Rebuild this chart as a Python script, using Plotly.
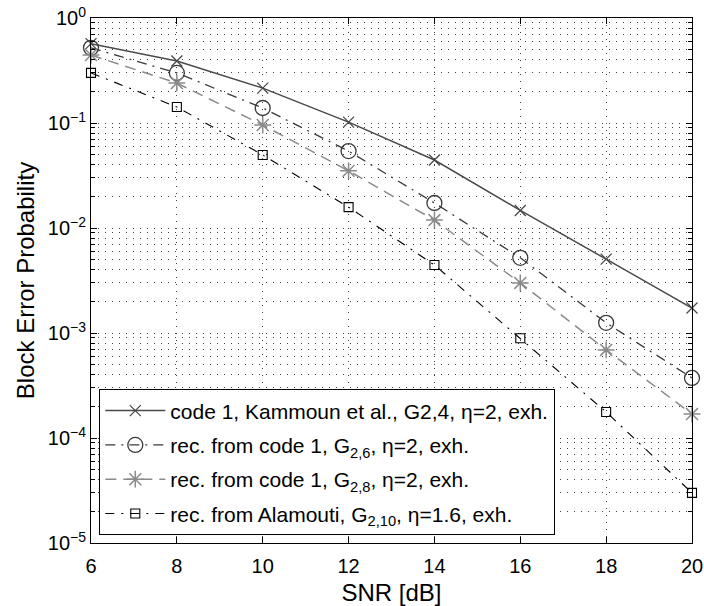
import plotly.graph_objects as go

snr = [6, 8, 10, 12, 14, 16, 18, 20]
code1 = [0.57, 0.39, 0.215, 0.102, 0.0444, 0.0147, 0.00505, 0.00173]
rec_g26 = [0.52, 0.30, 0.139, 0.054, 0.0173, 0.0052, 0.00125, 0.000373]
rec_g28 = [0.444, 0.24, 0.0957, 0.035, 0.0119, 0.0030, 0.00069, 0.000169]
alam_g210 = [0.30, 0.142, 0.0496, 0.0158, 0.00444, 0.00089, 0.000177, 0.000030]

names = [
    "code 1, Kammoun et al., G2,4, η=2, exh.",
    "rec. from code 1, G<sub>2,6</sub>, η=2, exh.",
    "rec. from code 1, G<sub>2,8</sub>, η=2, exh.",
    "rec. from Alamouti, G<sub>2,10</sub>, η=1.6, exh.",
]

ytick_vals = [1e-5, 1e-4, 1e-3, 1e-2, 1e-1, 1e0]
ytick_text = ["10<sup>−5</sup>", "10<sup>−4</sup>", "10<sup>−3</sup>",
              "10<sup>−2</sup>", "10<sup>−1</sup>", "10<sup>0</sup>"]
minor_vals = [m * 10.0 ** e for e in range(-5, 0) for m in range(2, 10)]

FONT = "Liberation Sans"

fig = go.Figure()
fig.add_trace(go.Scatter(
    x=snr, y=code1, name=names[0], mode="lines+markers", legendgroup="a", cliponaxis=False,
    line=dict(color="#4a4a4a", width=1.5),
    marker=dict(symbol="x-thin-open", size=11, line=dict(color="#4a4a4a", width=1.3)),
))
fig.add_trace(go.Scatter(
    x=snr, y=rec_g26, name=names[1], mode="lines+markers", legendgroup="b", cliponaxis=False,
    line=dict(color="#3a3a3a", width=1.3, dash="10px,6px,2px,6px"),
    marker=dict(symbol="circle-open", size=15, color="#3a3a3a", line=dict(color="#3a3a3a", width=1.3)),
))
fig.add_trace(go.Scatter(
    x=snr, y=rec_g28, name=names[2], mode="lines+markers", legendgroup="c", cliponaxis=False,
    line=dict(color="#8a8a8a", width=1.5, dash="11px,7px"),
    marker=dict(symbol="asterisk-open", size=14, line=dict(color="#8a8a8a", width=1.5)),
))
fig.add_trace(go.Scatter(
    x=snr, y=alam_g210, name=names[3], mode="lines+markers", legendgroup="d", cliponaxis=False,
    line=dict(color="#000000", width=1.1, dash="9px,7px,2px,7px"),
    marker=dict(symbol="square-open", size=9, color="#000000", line=dict(color="#000000", width=1.1)),
))

grid_dash = "1px,6px"
fig.update_layout(
    width=704, height=606,
    margin=dict(l=91, r=12, t=18, b=63),
    paper_bgcolor="white", plot_bgcolor="white",
    font=dict(family=FONT, size=20, color="black"),
    showlegend=True,
    legend=dict(
        x=0.0133, y=0.293, xanchor="left", yanchor="top",
        bgcolor="white", bordercolor="black", borderwidth=1.3,
        font=dict(family=FONT, size=21), itemwidth=60,
        traceorder="grouped", tracegroupgap=4,
    ),
    xaxis=dict(
        range=[6, 20], dtick=2, tick0=6, automargin=False,
        showline=True, linecolor="black", linewidth=1, mirror="ticks",
        ticks="inside", ticklen=6, tickcolor="black", ticklabelstandoff=5,
        showgrid=True, gridcolor="rgba(0,0,0,0.75)", gridwidth=1, griddash=grid_dash,
        zeroline=False,
        title=dict(text="SNR [dB]", font=dict(family=FONT, size=24), standoff=25),
        tickfont=dict(family=FONT, size=20),
    ),
    yaxis=dict(
        type="log", range=[-5, 0], automargin=False,
        tickmode="array", tickvals=ytick_vals, ticktext=ytick_text,
        showline=True, linecolor="black", linewidth=1, mirror="ticks",
        ticks="inside", ticklen=6, tickcolor="black",
        showgrid=True, gridcolor="rgba(0,0,0,0.75)", gridwidth=1, griddash=grid_dash,
        zeroline=False,
        minor=dict(tickmode="array", tickvals=minor_vals, ticks="inside", ticklen=4,
                   tickcolor="black", showgrid=True, gridcolor="rgba(0,0,0,0.75)",
                   gridwidth=1, griddash=grid_dash),
        title=dict(text="Block Error Probability", font=dict(family=FONT, size=24), standoff=6),
        tickfont=dict(family=FONT, size=20),
    ),
)

fig.write_html("out.html")
